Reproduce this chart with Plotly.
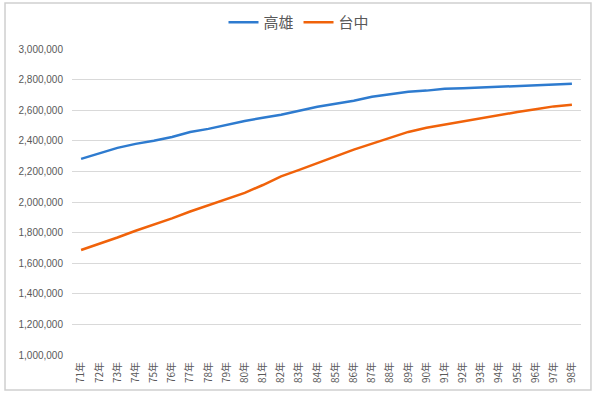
import plotly.graph_objects as go

years = [f"{y}年" for y in range(71, 99)]
kaohsiung = [2282000, 2320000, 2354000, 2380000, 2400000, 2425000, 2458000, 2478000,
             2504000, 2530000, 2550000, 2570000, 2596000, 2622000, 2642000, 2662000,
             2688000, 2703000, 2720000, 2728000, 2740000, 2743000, 2748000, 2752000,
             2760000, 2765000, 2768000, 2773000]
taichung = [1686000, 1725000, 1768000, 1812000, 1852000, 1893000, 1938000, 1978000,
            2020000, 2060000, 2111000, 2168000, 2210000, 2256000, 2298000, 2342000,
            2380000, 2418000, 2458000, 2485000, 2506000, 2528000, 2546000, 2565000,
            2588000, 2606000, 2625000, 2635000]
series_names = ["高雄", "台中"]
y_ticks = list(range(1000000, 3000001, 200000))

fig = go.Figure()
fig.add_trace(go.Scatter(x=years, y=kaohsiung, name=series_names[0], mode="lines",
                         line=dict(color="#2E7BCF", width=2.5)))
fig.add_trace(go.Scatter(x=years, y=taichung, name=series_names[1], mode="lines",
                         line=dict(color="#F0620A", width=2.5)))

fig.update_layout(
    width=598, height=396,
    margin=dict(l=72, r=17, t=49, b=41, autoexpand=False),
    paper_bgcolor="white", plot_bgcolor="white",
    font=dict(family="Noto Sans CJK TC, sans-serif", color="#595959"),
    legend=dict(orientation="h", xref="container", x=0.5, xanchor="center",
                yref="container", y=0.985, yanchor="top",
                font=dict(size=15, color="#595959"), itemwidth=30,
                bgcolor="rgba(0,0,0,0)", tracegroupgap=0),
    showlegend=True,
)
fig.update_xaxes(type="category", range=[-0.5, len(years) - 0.5], automargin=False,
                 tickangle=-90, tickfont=dict(size=10, color="#595959"), ticklabelstandoff=4,
                 showgrid=False, showline=False, ticks="", zeroline=False)
fig.update_yaxes(range=[1000000, 3000000], tickvals=y_ticks, tickformat=",d", automargin=False,
                 tickfont=dict(size=10, color="#595959", family="Liberation Sans, sans-serif"),
                 ticklabelstandoff=8,
                 gridcolor="#D9D9D9", gridwidth=1, showline=False, zeroline=False,
                 ticks="", ticklen=0)

fig.add_shape(type="rect", xref="paper", yref="paper",
              x0=-0.1316, x1=1.0196, y0=-0.114, y1=1.150,
              line=dict(color="#CFCFCF", width=1.5), fillcolor="rgba(0,0,0,0)", layer="above")

fig.write_html("out.html", config={"displayModeBar": False},
               post_script="document.body.style.margin='0';document.body.style.overflow='hidden';")
